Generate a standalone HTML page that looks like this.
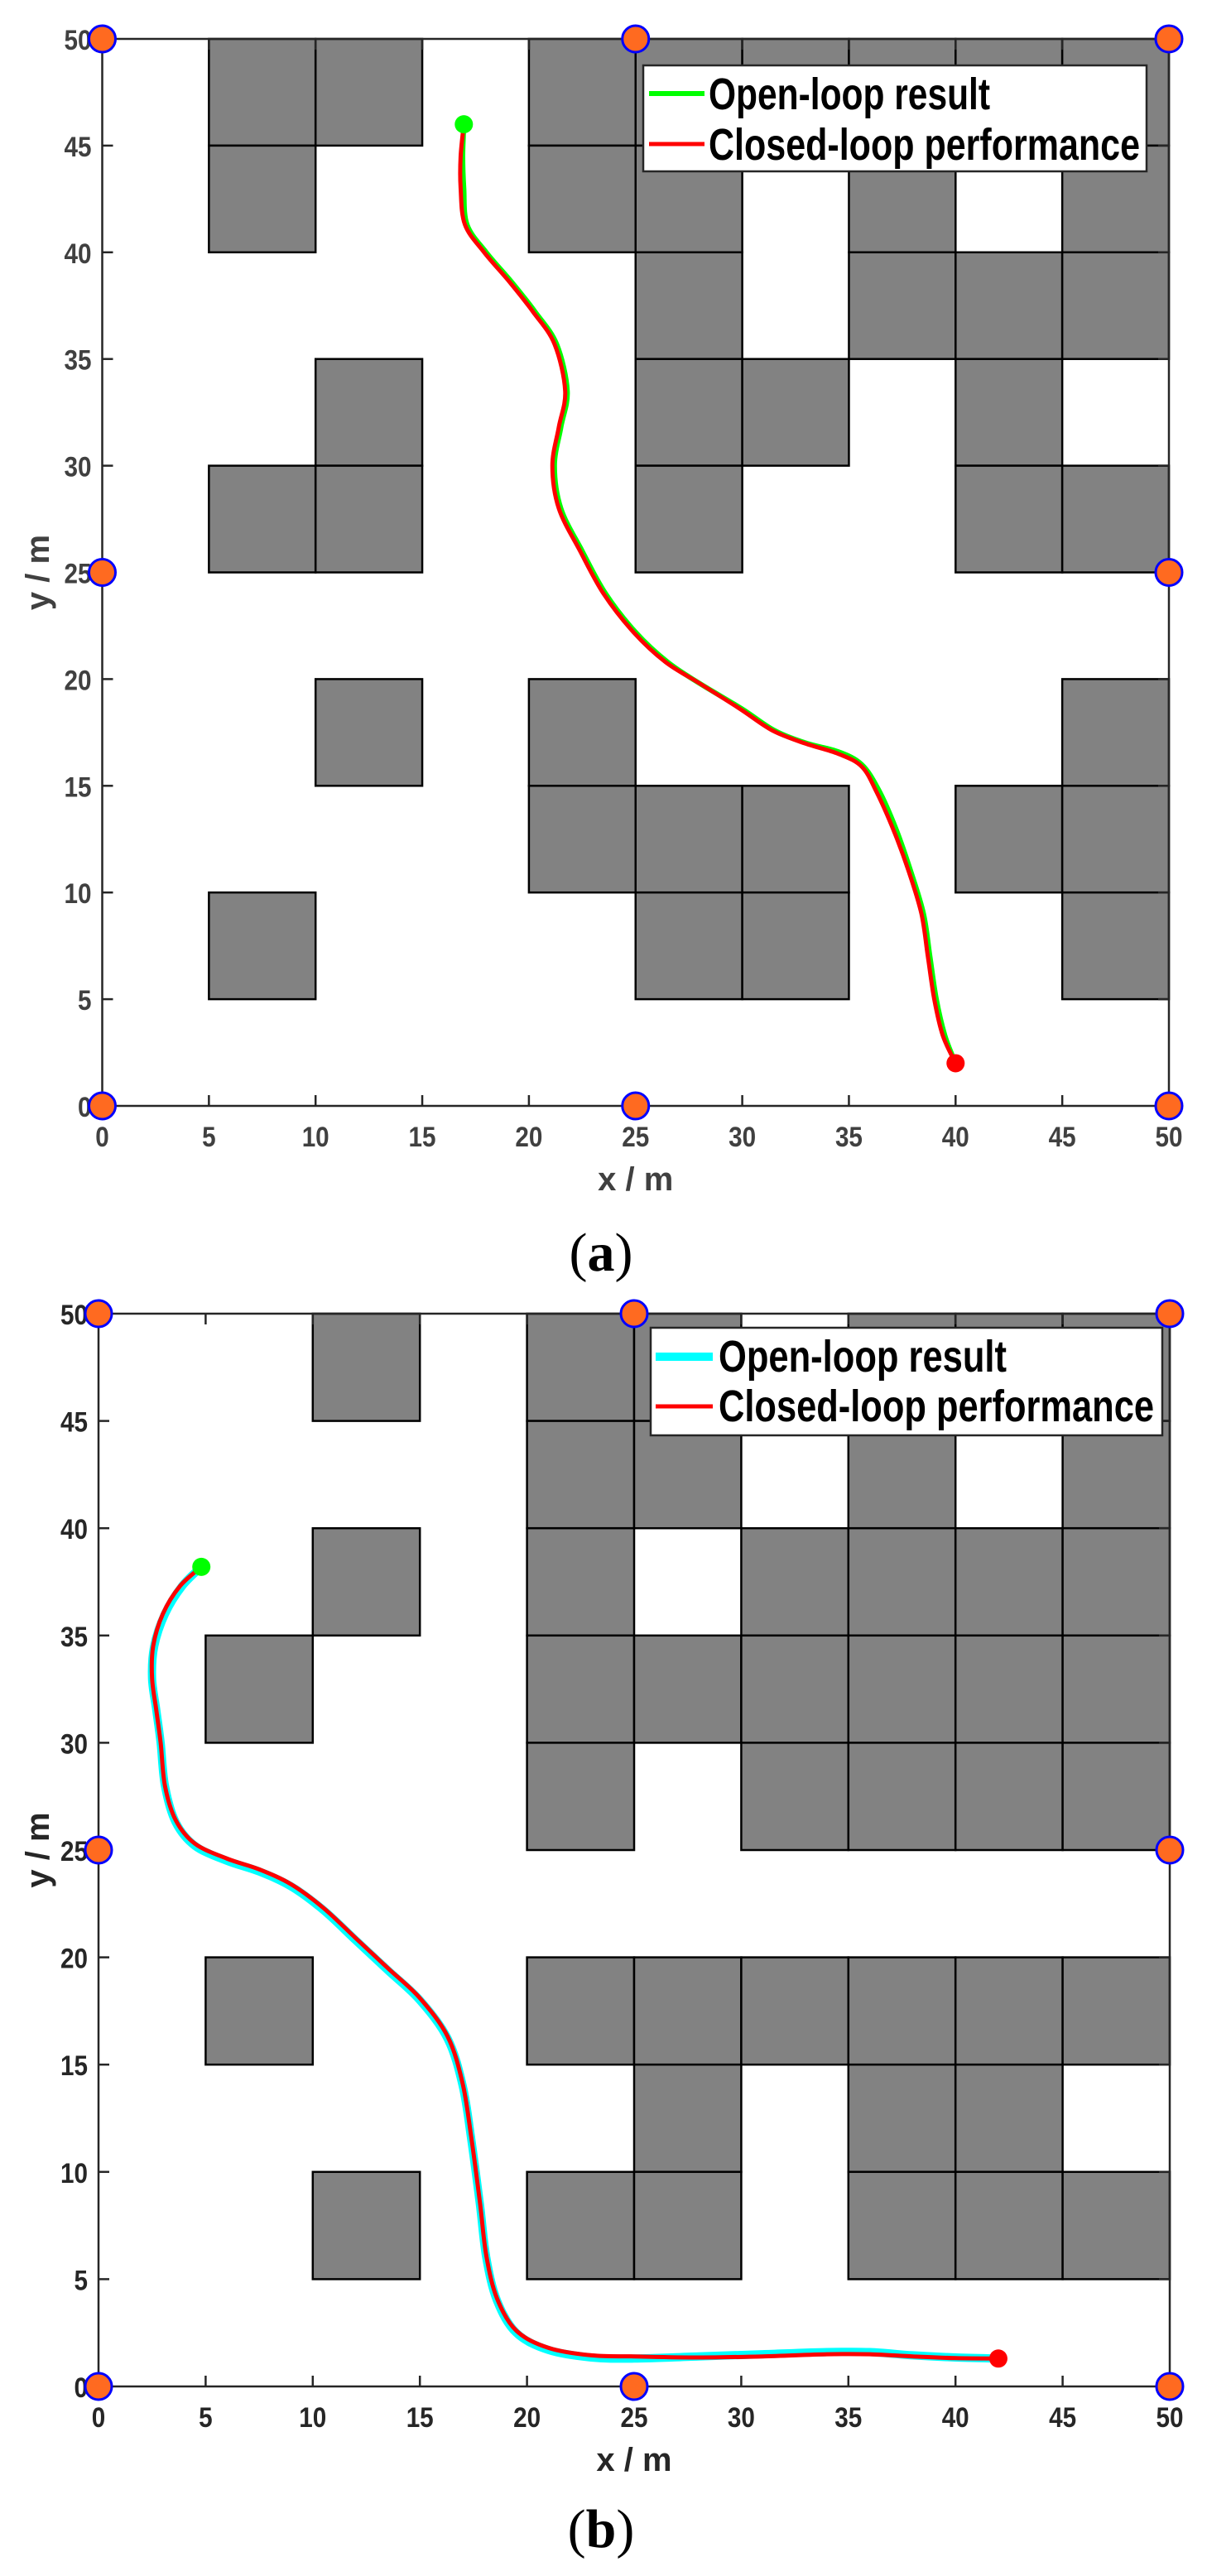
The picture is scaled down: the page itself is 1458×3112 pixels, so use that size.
<!DOCTYPE html>
<html><head><meta charset="utf-8">
<style>
html,body{margin:0;padding:0;background:#fff;}
svg{display:block;}
</style></head>
<body>
<svg id="fig" width="1458" height="3112" viewBox="0 0 1458 3112" xmlns="http://www.w3.org/2000/svg"></svg>
<script>
// ---------- data ----------
const ticks = [0,5,10,15,20,25,30,35,40,45,50];
const cornerMarkers = [[0,0],[25,0],[50,0],[0,25],[50,25],[0,50],[25,50],[50,50]];
const obstaclesA = [
 [5,45],[5,40],[5,25],[5,5],
 [10,45],[10,30],[10,25],[10,15],
 [20,45],[20,40],[20,15],[20,10],
 [25,45],[25,40],[25,35],[25,30],[25,25],[25,10],[25,5],
 [30,45],[30,30],[30,10],[30,5],
 [35,45],[35,40],[35,35],
 [40,45],[40,35],[40,30],[40,25],[40,10],
 [45,45],[45,40],[45,35],[45,25],[45,15],[45,10],[45,5]
];
const obstaclesB = [
 [10,45],[20,45],[25,45],[35,45],[40,45],[45,45],
 [20,40],[25,40],[35,40],[45,40],
 [10,35],[20,35],[30,35],[35,35],[40,35],[45,35],
 [5,30],[20,30],[25,30],[30,30],[35,30],[40,30],[45,30],
 [20,25],[30,25],[35,25],[40,25],[45,25],
 [5,15],[20,15],[25,15],[30,15],[35,15],[40,15],[45,15],
 [25,10],[35,10],[40,10],
 [10,5],[20,5],[25,5],[35,5],[40,5],[45,5]
];
const openLoopA_x = [16.95,16.9,16.95,17.1,18,19.2,20.3,21.3,21.8,21.5,21.2,21.5,22.5,23.6,25,26.5,28,30,31.5,33,34.5,35.6,36.4,37.2,37.9,38.5,38.8,39.1,39.5,40];
const openLoopA_y = [46,44.5,43,41.3,40,38.6,37.2,35.7,33.5,31.8,30,28,26,24,22.2,20.8,19.8,18.6,17.6,17,16.6,16,14.8,13,11,9,7,5,3.3,2];
const closedA_x = [16.95,16.8,16.8,17,17.9,19.1,20.2,21.2,21.7,21.4,21.1,21.4,22.4,23.5,24.9,26.4,28,29.9,31.4,32.9,34.5,35.6,36.3,37.1,37.8,38.4,38.7,39,39.4,40];
const closedA_y = [46,44.5,43,41.3,40,38.6,37.2,35.7,33.5,31.8,30,28,26,24,22.2,20.8,19.8,18.6,17.6,17,16.5,15.9,14.7,12.9,11,9,7,5,3.3,2];
const openLoopB_x = [4.8,3.9,3.1,2.6,2.5,2.7,2.9,3.1,3.6,4.5,6,7.5,9,10.5,12,13.5,15,16.3,17,17.4,17.8,18.1,18.6,19.5,21,23,25,28,31,34,36,38,40,42];
const openLoopB_y = [38.2,37.3,36,34.5,33,31.5,30,28,26.3,25.2,24.5,24,23.3,22.2,20.8,19.4,18,16.2,14,11.5,8.5,6,4,2.5,1.7,1.35,1.3,1.4,1.5,1.6,1.6,1.45,1.35,1.3];
const closedB_x = [4.8,3.8,3,2.55,2.5,2.7,2.9,3.1,3.6,4.5,6,7.5,9,10.5,12,13.5,15,16.3,17,17.4,17.8,18.1,18.6,19.5,21,23,25,28,31,34,36,38,40,42];
const closedB_y = [38.2,37.3,36,34.5,33,31.5,30,28,26.4,25.3,24.6,24.1,23.4,22.3,20.9,19.5,18.1,16.3,14.1,11.6,8.6,6.1,4.1,2.6,1.8,1.45,1.4,1.35,1.4,1.5,1.5,1.4,1.32,1.3];
const legendLabels = ["Open-loop result","Closed-loop performance"];

// ---------- drawing ----------
const NS="http://www.w3.org/2000/svg";
const svg=document.getElementById('fig');
function mk(tag,parent){const e=document.createElementNS(NS,tag);parent.appendChild(e);return e;}

function smoothPath(pts){
  let d='M'+pts[0][0]+','+pts[0][1];
  for(let i=0;i<pts.length-1;i++){
    const p0=pts[Math.max(i-1,0)],p1=pts[i],p2=pts[i+1],p3=pts[Math.min(i+2,pts.length-1)];
    const c1x=p1[0]+(p2[0]-p0[0])/6,c1y=p1[1]+(p2[1]-p0[1])/6;
    const c2x=p2[0]-(p3[0]-p1[0])/6,c2y=p2[1]-(p3[1]-p1[1])/6;
    d+=' C'+c1x+','+c1y+' '+c2x+','+c2y+' '+p2[0]+','+p2[1];
  }
  return d;
}

function drawPanel(cfg){
  const g=mk('g',svg);
  
  
  const sx=v=>cfg.x0+(cfg.x50-cfg.x0)*v/50;
  const sy=v=>cfg.y0-(cfg.y0-cfg.y50)*v/50;
  cfg.obst.forEach(o=>{
    const r=mk('rect',g);
    
    
    r.setAttribute('x',sx(o[0]));r.setAttribute('y',sy(o[1]+5));
    r.setAttribute('width',sx(o[0]+5)-sx(o[0]));r.setAttribute('height',sy(o[1])-sy(o[1]+5));
    r.setAttribute('fill','#828282');r.setAttribute('stroke','#000');r.setAttribute('stroke-width','2.5');
  });
  const box=mk('rect',g);
  
  
  box.setAttribute('x',sx(0));box.setAttribute('y',sy(50));
  box.setAttribute('width',sx(50)-sx(0));box.setAttribute('height',sy(0)-sy(50));
  box.setAttribute('fill','none');box.setAttribute('stroke','#262626');box.setAttribute('stroke-width','2.5');
  ticks.forEach(t=>{
    [[sx(t),sy(0),sx(t),sy(0)-13],[sx(t),sy(50),sx(t),sy(50)+13],[sx(0),sy(t),sx(0)+13,sy(t)],[sx(50),sy(t),sx(50)-13,sy(t)]].forEach(c=>{
      const l=mk('line',g);
      
      
      l.setAttribute('x1',c[0]);l.setAttribute('y1',c[1]);l.setAttribute('x2',c[2]);l.setAttribute('y2',c[3]);
      l.setAttribute('stroke','#262626');l.setAttribute('stroke-width','2.5');
    });
    const s=String(t);
    const xl=mk('text',g);
    
    
    xl.setAttribute('x',sx(t));xl.setAttribute('y',sy(0)+49);
    xl.setAttribute('text-anchor','middle');
    xl.setAttribute('textLength',s.length*16.5);xl.setAttribute('lengthAdjust','spacingAndGlyphs');
    xl.setAttribute('style',`font:bold 34px "Liberation Sans",sans-serif;fill:${cfg.tc}`);
    xl.textContent=s;
    const yl=mk('text',g);
    
    
    yl.setAttribute('x',sx(0)-13);yl.setAttribute('y',sy(t)+13);
    yl.setAttribute('text-anchor','end');
    yl.setAttribute('textLength',s.length*16.5);yl.setAttribute('lengthAdjust','spacingAndGlyphs');
    yl.setAttribute('style',`font:bold 34px "Liberation Sans",sans-serif;fill:${cfg.tc}`);
    yl.textContent=s;
  });
  const xt=mk('text',g);
  
  
  xt.setAttribute('x',sx(25));xt.setAttribute('y',sy(0)+102);xt.setAttribute('text-anchor','middle');
  xt.setAttribute('style',`font:bold 40px "Liberation Sans",sans-serif;fill:${cfg.tc}`);
  xt.textContent='x / m';
  const yt=mk('text',g);
  
  
  yt.setAttribute('transform',`translate(59,${sy(25)}) rotate(-90)`);
  yt.setAttribute('text-anchor','middle');
  yt.setAttribute('style',`font:bold 40px "Liberation Sans",sans-serif;fill:${cfg.tc}`);
  yt.textContent='y / m';
  function curve(xs,ys,color,w,name){
    const p=mk('path',g);
    
    
    p.setAttribute('d',smoothPath(xs.map((x,i)=>[sx(x),sy(ys[i])])));
    p.setAttribute('fill','none');p.setAttribute('stroke',color);p.setAttribute('stroke-width',w);
    p.setAttribute('stroke-linejoin','round');p.setAttribute('stroke-linecap','round');
  }
  curve(cfg.ox,cfg.oy,cfg.oc,cfg.ow,'open-loop-path');
  curve(cfg.cx,cfg.cy,'#ff0000',5,'closed-loop-path');
  const st=mk('circle',g);
  
  
  st.setAttribute('cx',sx(cfg.cx[0]));st.setAttribute('cy',sy(cfg.cy[0]));st.setAttribute('r',11);st.setAttribute('fill','#00ff00');
  const en=mk('circle',g);
  
  
  en.setAttribute('cx',sx(cfg.cx[cfg.cx.length-1]));en.setAttribute('cy',sy(cfg.cy[cfg.cy.length-1]));en.setAttribute('r',11);en.setAttribute('fill','#ff0000');
  cornerMarkers.forEach(m=>{
    const c=mk('circle',g);
    
    
    c.setAttribute('cx',sx(m[0]));c.setAttribute('cy',sy(m[1]));c.setAttribute('r',16);
    c.setAttribute('fill','#ff6a20');c.setAttribute('stroke','#0000ff');c.setAttribute('stroke-width','3');
  });
  const L=cfg.leg;
  const lg=mk('g',g);
  
  
  const lb=mk('rect',lg);
  
  
  lb.setAttribute('x',L.x);lb.setAttribute('y',L.y);lb.setAttribute('width',L.w);lb.setAttribute('height',L.h);
  lb.setAttribute('fill','#fff');lb.setAttribute('stroke','#262626');lb.setAttribute('stroke-width','2.5');
  [[cfg.oc,cfg.ow],['#ff0000',5]].forEach((s,i)=>{
    const ln=mk('line',lg);
    
    
    ln.setAttribute('x1',L.lx1);ln.setAttribute('x2',L.lx2);ln.setAttribute('y1',L.ly[i]);ln.setAttribute('y2',L.ly[i]);
    ln.setAttribute('stroke',s[0]);ln.setAttribute('stroke-width',s[1]);
    const tx=mk('text',lg);
    
    
    tx.setAttribute('x',L.tx);tx.setAttribute('y',L.ty[i]);
    tx.setAttribute('textLength',L.tl[i]);tx.setAttribute('lengthAdjust','spacingAndGlyphs');
    tx.setAttribute('style','font:bold 54px "Liberation Sans",sans-serif;fill:#000');
    tx.textContent=legendLabels[i];
  });
  const cap=mk('text',g);
  
  
  cap.setAttribute('x',cfg.capX);cap.setAttribute('y',cfg.capY);cap.setAttribute('text-anchor','middle');
  cap.setAttribute('style','font:66px "Liberation Serif",serif;fill:#000');
  cap.innerHTML='(<tspan font-weight="bold">'+cfg.capL+'</tspan>)';
}

drawPanel({name:'panel-a',x0:123.5,x50:1412,y0:1336,y50:47,obst:obstaclesA,tc:'#404040',
  ox:openLoopA_x,oy:openLoopA_y,oc:'#00ff00',ow:6,cx:closedA_x,cy:closedA_y,
  leg:{x:777,y:79,w:608,h:128,lx1:784,lx2:851,ly:[113,174],tx:856,ty:[132,193],tl:[340,521]},
  capX:726,capY:1535,capL:'a'});
drawPanel({name:'panel-b',x0:119,x50:1413,y0:2883,y50:1587,obst:obstaclesB,tc:'#262626',
  ox:openLoopB_x,oy:openLoopB_y,oc:'#00ffff',ow:10,cx:closedB_x,cy:closedB_y,
  leg:{x:786,y:1604,w:618,h:130,lx1:792,lx2:861,ly:[1639,1699],tx:868,ty:[1657,1717],tl:[348,526]},
  capX:726,capY:3077,capL:'b'});
</script>
</body></html>
